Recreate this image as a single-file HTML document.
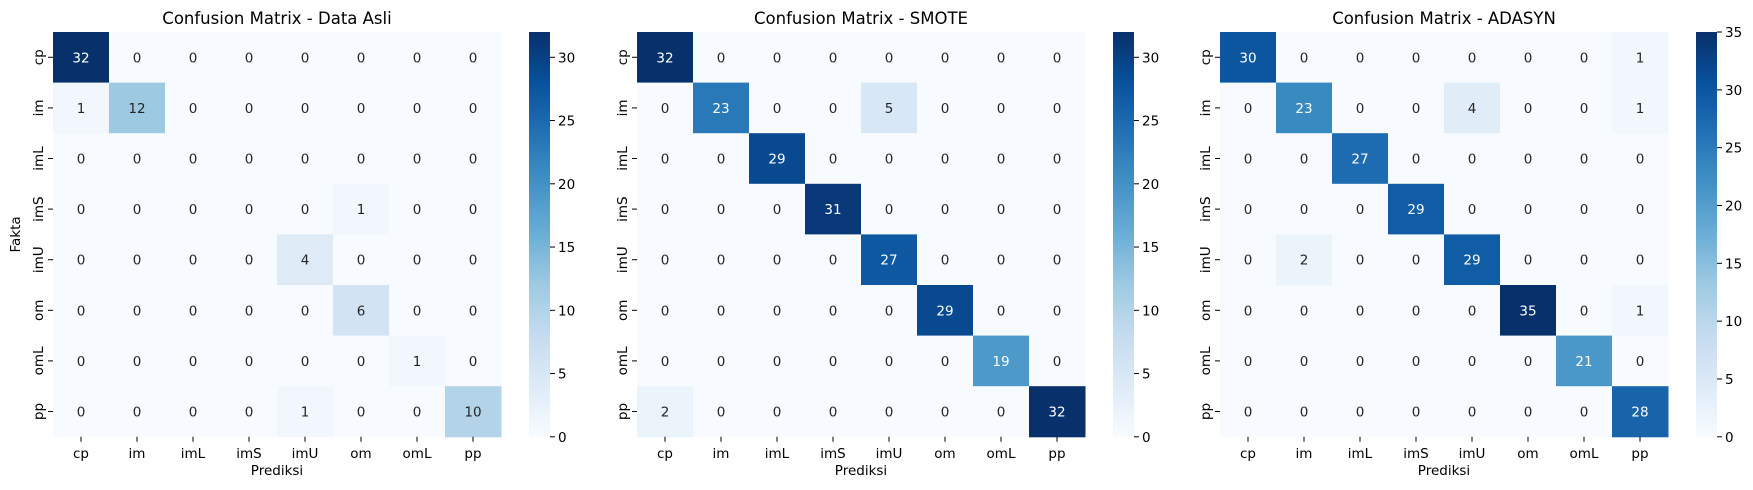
<!DOCTYPE html>
<html><head><meta charset="utf-8"><style>
html,body{margin:0;padding:0;background:#fff;}
svg{display:block;font-family:"DejaVu Sans","Liberation Sans",sans-serif;}
</style></head><body>
<svg id="fig" width="1753" height="490" viewBox="0 0 1753 490" xmlns="http://www.w3.org/2000/svg"></svg>
<script>
const labels = ["cp","im","imL","imS","imU","om","omL","pp"];
const titles = ["Confusion Matrix - Data Asli","Confusion Matrix - SMOTE","Confusion Matrix - ADASYN"];
const dataAsli = [
[32,0,0,0,0,0,0,0],[1,12,0,0,0,0,0,0],[0,0,0,0,0,0,0,0],[0,0,0,0,0,1,0,0],
[0,0,0,0,4,0,0,0],[0,0,0,0,0,6,0,0],[0,0,0,0,0,0,1,0],[0,0,0,0,1,0,0,10]];
const dataSmote = [
[32,0,0,0,0,0,0,0],[0,23,0,0,5,0,0,0],[0,0,29,0,0,0,0,0],[0,0,0,31,0,0,0,0],
[0,0,0,0,27,0,0,0],[0,0,0,0,0,29,0,0],[0,0,0,0,0,0,19,0],[2,0,0,0,0,0,0,32]];
const dataAdasyn = [
[30,0,0,0,0,0,0,1],[0,23,0,0,4,0,0,1],[0,0,27,0,0,0,0,0],[0,0,0,29,0,0,0,0],
[0,2,0,0,29,0,0,0],[0,0,0,0,0,35,0,1],[0,0,0,0,0,0,21,0],[0,0,0,0,0,0,0,28]];
const cbarTicks1 = [0,5,10,15,20,25,30];
const cbarTicks3 = [0,5,10,15,20,25,30,35];

const matrices=[dataAsli,dataSmote,dataAdasyn];
const tickSets=[cbarTicks1,cbarTicks1,cbarTicks3];
const lefts=[53,637,1220];
const TOP=32, CW=56, CH=50.6, N=8;
const stops=["#f7fbff","#deebf7","#c6dbef","#9ecae1","#6baed6","#4292c6","#2171b5","#08519c","#08306b"];
function hex(h){return [1,3,5].map(i=>parseInt(h.substr(i,2),16));}
function blues(t){t=Math.max(0,Math.min(1,t));const p=t*8,i=Math.min(7,Math.floor(p)),f=p-i;
 const a=hex(stops[i]),b=hex(stops[i+1]);return "rgb("+a.map((v,k)=>Math.round(v+(b[k]-v)*f)).join(",")+")";}
const svg=document.getElementById('fig');const NS="http://www.w3.org/2000/svg";
function el(tag,attrs,parent,text){const e=document.createElementNS(NS,tag);for(const k in attrs)e.setAttribute(k,attrs[k]);if(text!==undefined)e.textContent=text;(parent||svg).appendChild(e);return e;}

matrices.forEach((m,p)=>{
 const L=lefts[p];const vmax=Math.max(...m.flat());const vmin=Math.min(...m.flat());
 const xs=c=>L+c*CW, ys=r=>TOP+r*CH;
 const g=el('g',{});
 
 
 const t=el('text',{x:L+CW*N/2,y:24,'text-anchor':'middle','font-size':16.5,fill:'#000'},g,titles[p]);
 
 
 m.forEach((row,r)=>row.forEach((v,c)=>{
  const frac=(v-vmin)/(vmax-vmin);
  const rc=el('rect',{x:xs(c),y:ys(r),width:CW+0.5,height:CH+0.5,fill:blues(frac)},g);
  
  
  const tx=el('text',{x:xs(c)+CW/2,y:ys(r)+CH/2+5,'text-anchor':'middle','font-size':13.5,fill:frac>0.5?'#fff':'#262626'},g,String(v));
  
  
 }));
 labels.forEach((lb,i)=>{
  const cx=xs(i)+CW/2;
  el('line',{x1:cx,y1:TOP+N*CH,x2:cx,y2:TOP+N*CH+5,stroke:'#000','stroke-width':1},g);
  const xl=el('text',{x:cx,y:TOP+N*CH+21,'text-anchor':'middle','font-size':13.5,fill:'#000'},g,lb);
  
  
  const cy=ys(i)+CH/2;
  el('line',{x1:L-5,y1:cy,x2:L,y2:cy,stroke:'#000','stroke-width':1},g);
  const yl=el('text',{x:L-10,y:cy,'text-anchor':'middle','font-size':13.5,fill:'#000',transform:'rotate(-90 '+(L-10)+' '+cy+')'},g,lb);
  
  
 });
 const xt=el('text',{x:L+CW*N/2,y:TOP+N*CH+38,'text-anchor':'middle','font-size':13.5,fill:'#000'},g,'Prediksi');
 
 
 if(p===0){const yt=el('text',{x:20,y:TOP+N*CH/2,'text-anchor':'middle','font-size':13.5,fill:'#000',transform:'rotate(-90 20 '+(TOP+N*CH/2)+')'},g,'Fakta');
  
  }
 // colorbar
 const cbx=L+CW*N+28, cbw=21, H=N*CH;
 const gid='grad'+p;const defs=el('defs',{},g);const lg=el('linearGradient',{id:gid,x1:0,y1:1,x2:0,y2:0},defs);
 for(let i=0;i<=16;i++)el('stop',{offset:i/16,'stop-color':blues(i/16)},lg);
 const cb=el('rect',{x:cbx,y:TOP,width:cbw,height:H,fill:'url(#'+gid+')'},g);
 
 
 const cy=v=>TOP+H-(v-vmin)/(vmax-vmin)*H;
 tickSets[p].forEach(v=>{const y=cy(v);
  el('line',{x1:cbx+cbw,y1:y,x2:cbx+cbw+5,y2:y,stroke:'#000','stroke-width':1},g);
  const cl=el('text',{x:cbx+cbw+8,y:y+5,'font-size':13.5,fill:'#000'},g,String(v));
  
  });
});
</script>
</body></html>
